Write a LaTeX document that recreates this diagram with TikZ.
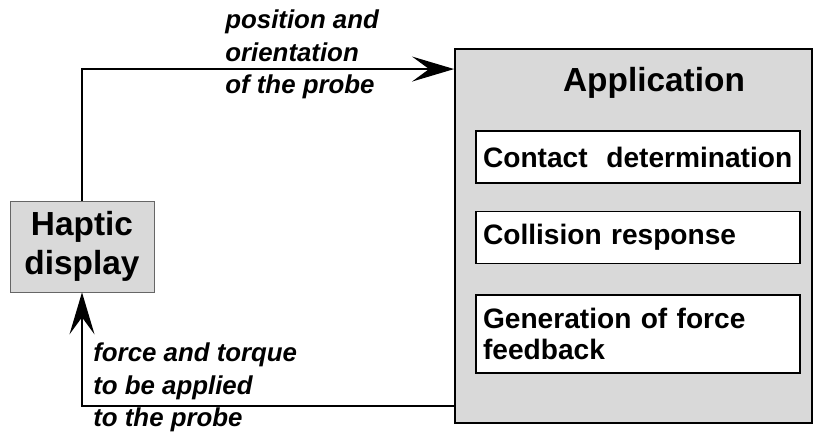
\documentclass[tikz,border=0pt]{standalone}
\usepackage{fontspec}
\setmainfont{Liberation Sans}
\usetikzlibrary{arrows.meta,positioning}
\definecolor{boxgrey}{RGB}{217,217,217}

\begin{document}
\begin{tikzpicture}[x=0.02cm,y=0.02cm,node distance=1cm,on grid,
  >={Stealth[length=0.84cm,width=0.5cm,inset=0.34cm]},
  unit/.style={draw=black,line width=1.1pt,fill=white,minimum height=1.04cm,
    text width=6.2cm,inner xsep=0.14cm,align=left,font=\fontsize{16}{18}\selectfont\bfseries},
  lbl/.style={inner sep=0pt,align=left,anchor=base west,font=\fontsize{14.7}{18.5}\selectfont\bfseries\itshape}]
  \useasboundingbox (0,0) rectangle (814,432);
  \node[draw=black!60,fill=boxgrey,minimum width=2.88cm,minimum height=1.82cm,align=center,
    font=\fontsize{19}{22.5}\selectfont\bfseries] (H) at (82,185.5) {Haptic\\display};
  \node[draw,line width=1.1pt,fill=boxgrey,minimum width=7.14cm,minimum height=7.48cm] (A) at (633.5,196) {};
  \node[anchor=base,font=\fontsize{19}{21}\selectfont\bfseries] (T) at (654,340) {Application};
  \node[unit] (C) at (638,275) {Contact~~determination};
  \node[unit,below=1.61cm of C] (R) {Collision response};
  \node[unit,below=1.93cm of R,minimum height=1.56cm] (F) {Generation of force\\feedback};
  \draw[->,line width=1.1pt] (H.north) |- ([yshift=-0.42cm]A.north west);
  \draw[->,line width=1.1pt] ([yshift=0.36cm]A.south west) -| (H.south);
  \node[lbl] (P) at (225,338) {position and\\orientation\\of the probe};
  \node[lbl] (Q) at (93,5) {force and torque\\to be applied\\to the probe};
\end{tikzpicture}
\end{document}
